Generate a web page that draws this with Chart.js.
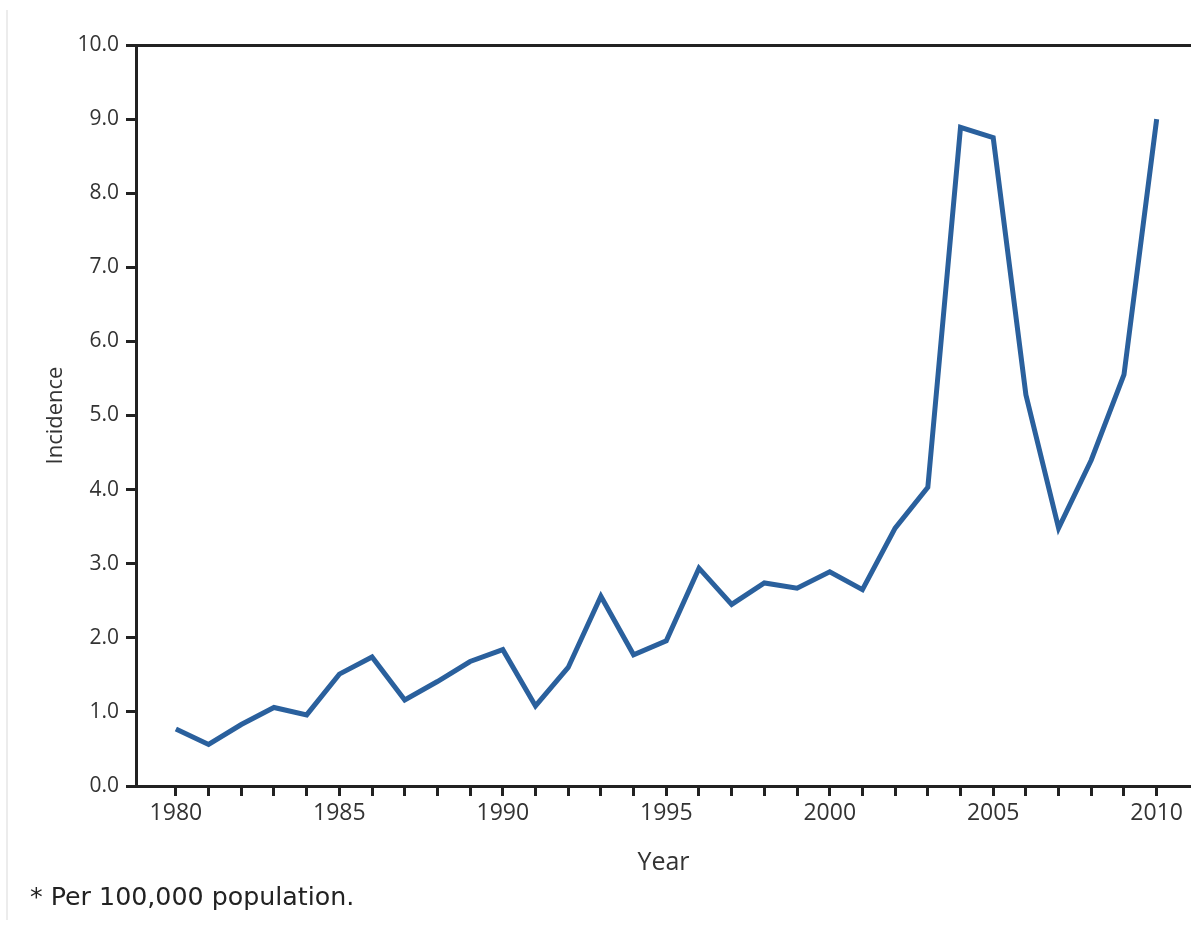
<!DOCTYPE html>
<html>
<head>
<meta charset="utf-8">
<script src="https://cdn.jsdelivr.net/npm/chart.js@4.4.0/dist/chart.umd.min.js"></script>
<style>
  body { margin: 0; background: #fff; }
  #wrap { position: relative; width: 1191px; height: 926px; }
  #edge { position: absolute; left: 6px; top: 10px; width: 2px; height: 910px; background: #ececec; }
  #note { position: absolute; left: 30px; top: 884px; font-family: "DejaVu Sans", sans-serif; font-size: 25.3px; line-height: 25px; color: #222; }
</style>
</head>
<body>
<div id="wrap">
  <div id="edge"></div>
  <canvas id="grafico"></canvas>
  <div id="note">* Per 100,000 population.</div>
</div>
<script>
// datos
const years = [1980, 1981, 1982, 1983, 1984, 1985, 1986, 1987, 1988, 1989, 1990,
               1991, 1992, 1993, 1994, 1995, 1996, 1997, 1998, 1999, 2000,
               2001, 2002, 2003, 2004, 2005, 2006, 2007, 2008, 2009, 2010];
const incidence = [0.77, 0.56, 0.83, 1.06, 0.96, 1.51, 1.74, 1.16, 1.41, 1.68, 1.84,
                   1.08, 1.60, 2.56, 1.77, 1.96, 2.94, 2.45, 2.74, 2.67, 2.89,
                   2.65, 3.48, 4.03, 8.89, 8.75, 5.28, 3.48, 4.40, 5.55, 9.00];
const yTicks = [0, 1, 2, 3, 4, 5, 6, 7, 8, 9, 10];
const xLabelEvery = 5;

const axisColor = '#222';
const points = years.map((y, i) => ({ x: y, y: incidence[i] }));

const ctx = document.getElementById('grafico').getContext('2d');
const myChart = new Chart(ctx, {
    type: 'line',
    data: {
        datasets: [{
            label: 'Incidence',
            data: points,
            borderColor: '#2a609d',
            borderWidth: 5,
            pointRadius: 0,
            tension: 0,
            fill: false
        }]
    },
    options: {
        responsive: true,
        maintainAspectRatio: false,
        animation: false,
        layout: { padding: 0 },
        plugins: {
            legend: { display: false },
            tooltip: { enabled: false }
        },
        scales: {
            x: {
                type: 'linear',
                position: 'bottom',
                min: 1978.78,
                max: 2011.05,
                afterBuildTicks: (scale) => {
                    scale.ticks = years.map((v) => ({ value: v }));
                },
                afterFit: (scale) => { scale.height = 140; },
                ticks: {
                    autoSkip: false,
                    maxRotation: 0,
                    padding: 4,
                    color: '#333',
                    font: { family: 'Open Sans', size: 23 },
                    callback: (v) => (v % xLabelEvery === 0 ? String(v) : '')
                },
                grid: { drawOnChartArea: false, drawTicks: true, tickLength: 10, color: axisColor, lineWidth: 3 },
                border: { display: true, color: axisColor, width: 3 },
                title: {
                    display: true,
                    text: 'Year',
                    color: '#333',
                    font: { family: 'Open Sans', size: 25 },
                    padding: { top: 0, bottom: 48 }
                }
            },
            xTop: {
                type: 'linear',
                position: 'top',
                min: 1978.78,
                max: 2011.05,
                afterFit: (scale) => { scale.height = 45; },
                ticks: { display: false },
                grid: { display: false },
                border: { display: true, color: axisColor, width: 3 }
            },
            y: {
                min: 0,
                max: 10,
                afterBuildTicks: (scale) => {
                    scale.ticks = yTicks.map((v) => ({ value: v }));
                },
                afterFit: (scale) => { scale.width = 136; },
                ticks: {
                    padding: 7,
                    color: '#333',
                    font: { family: 'Open Sans', size: 21 },
                    callback: (v) => v.toFixed(1)
                },
                grid: { drawOnChartArea: false, drawTicks: true, tickLength: 10, color: axisColor, lineWidth: 3 },
                border: { display: true, color: axisColor, width: 3 },
                title: {
                    display: true,
                    text: 'Incidence',
                    color: '#333',
                    font: { family: 'Open Sans', size: 22 },
                    padding: { top: 43, bottom: 0 }
                }
            }
        }
    }
});
</script>
</body>
</html>
